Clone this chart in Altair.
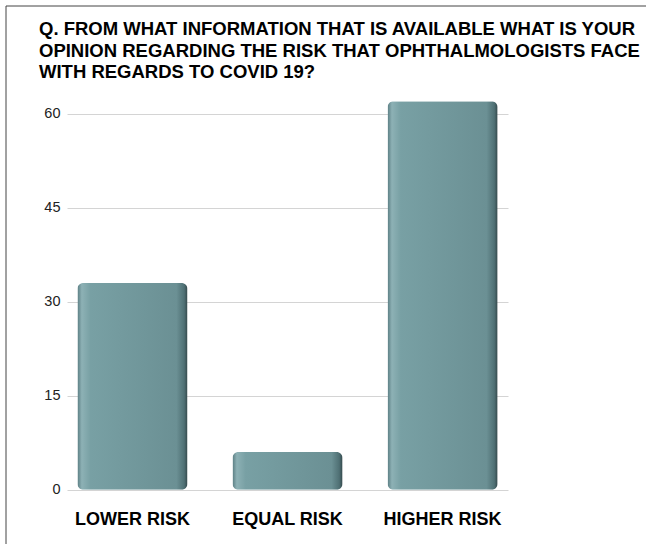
import altair as alt
import pandas as pd

categories = ["LOWER RISK", "EQUAL RISK", "HIGHER RISK"]
values = [33, 6, 62]
y_ticks = [0, 15, 30, 45, 60]
title_lines = [
    "Q. FROM WHAT INFORMATION THAT IS AVAILABLE WHAT IS YOUR",
    "OPINION REGARDING THE RISK THAT OPHTHALMOLOGISTS FACE",
    "WITH REGARDS TO COVID 19?",
]

df = pd.DataFrame({"category": categories, "value": values})
one = pd.DataFrame({"k": [0]})

FONT = "Liberation Sans"
W, H = 441, 411

grad = alt.Gradient(
    gradient="linear",
    x1=0, y1=0, x2=1, y2=0,
    stops=[
        alt.GradientStop(offset=0.0, color="#5a7d82"),
        alt.GradientStop(offset=0.04, color="#8db1b5"),
        alt.GradientStop(offset=0.12, color="#78a0a4"),
        alt.GradientStop(offset=0.9, color="#6b9094"),
        alt.GradientStop(offset=0.97, color="#4f7074"),
        alt.GradientStop(offset=1.0, color="#34484b"),
    ],
)

bars = alt.Chart(df).mark_bar(color=grad, cornerRadius=6).encode(
    x=alt.X(
        "category:N",
        sort=categories,
        title=None,
        scale=alt.Scale(paddingInner=0.29, paddingOuter=0.067),
        axis=alt.Axis(
            labelAngle=0, labelFont=FONT, labelFontSize=18, labelFontWeight="bold",
            labelColor="#000000", labelPadding=4, ticks=False, domain=False, grid=False,
        ),
    ),
    y=alt.Y(
        "value:Q",
        title=None,
        scale=alt.Scale(domain=[-2.6, 63], nice=False, zero=False),
        axis=alt.Axis(
            values=y_ticks, labelFont=FONT, labelFontSize=14.5, labelColor="#222222",
            labelPadding=7, ticks=False, domain=False, grid=True,
            gridColor="#d4d4d4", gridWidth=1,
        ),
    ),
    y2=alt.value(H),
)

title = alt.Chart(one).mark_text(
    text=title_lines, font=FONT, fontSize=18.5, fontWeight="bold", color="#000000",
    align="left", baseline="top", lineHeight=21.5,
).encode(x=alt.value(-28), y=alt.value(-75))

border_left = alt.Chart(one).mark_rule(color="#444444", strokeWidth=1).encode(
    x=alt.value(-61), y=alt.value(-89), y2=alt.value(H + 38)
)
border_top = alt.Chart(one).mark_rule(color="#444444", strokeWidth=1).encode(
    x=alt.value(-61), x2=alt.value(W + 138), y=alt.value(-89)
)

chart = alt.layer(bars, title, border_left, border_top).properties(
    width=W,
    height=H,
    autosize=alt.AutoSizeParams(type="none"),
    padding={"left": 67, "top": 95, "right": 138, "bottom": 38},
).configure(background="#ffffff").configure_view(strokeWidth=0)

chart.save("out.html", embed_options={"renderer": "svg", "actions": False})
